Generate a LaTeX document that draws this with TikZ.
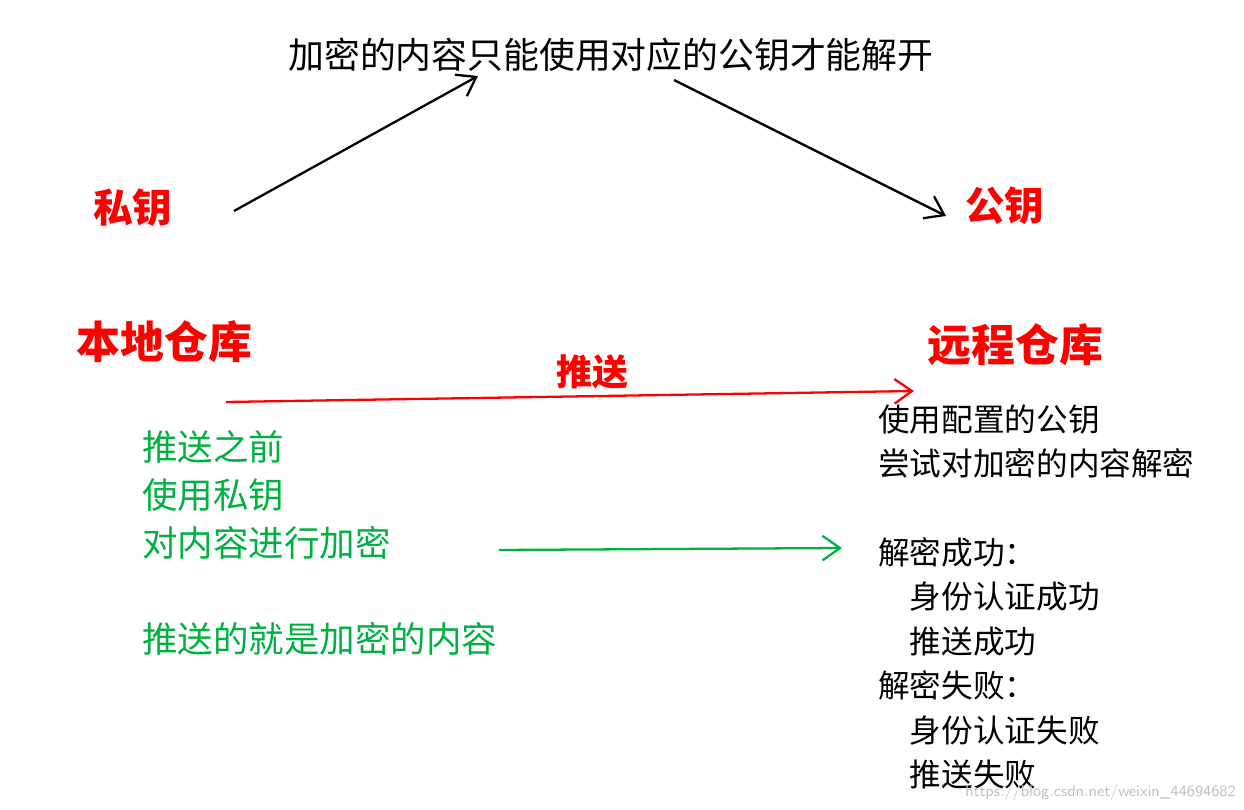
\documentclass[tikz,border=0pt]{standalone}
\usepackage{fontspec}
\newfontfamily\cjk{Noto Sans CJK SC}
\usetikzlibrary{arrows.meta}
\definecolor{gr}{HTML}{00B040}
\begin{document}
\begin{tikzpicture}[x=0.02cm,y=-0.02cm,
  lbl/.style={inner sep=0pt,anchor=west,font=\cjk},
  arr/.style={line width=1.3pt,-{Straight Barb[length=10pt,width=14pt,line width=1.3pt]}}]
\useasboundingbox (0,0) rectangle (1244,810);
\node[lbl,font=\cjk\fontsize{20.4}{24}\selectfont] (top) at (288,55) {加密的内容只能使用对应的公钥才能解开};
\node[lbl,text=red,font=\cjk\bfseries\fontsize{22.5}{26}\selectfont] (priv) at (93,208) {私钥};
\node[lbl,text=red,font=\cjk\bfseries\fontsize{22.5}{26}\selectfont] (pub) at (965,206) {公钥};
\node[lbl,text=red,font=\cjk\bfseries\fontsize{25}{30}\selectfont] (local) at (76,342) {本地仓库};
\node[lbl,text=red,font=\cjk\bfseries\fontsize{20.5}{24}\selectfont] (push) at (556,372) {推送};
\node[lbl,text=red,font=\cjk\bfseries\fontsize{25}{30}\selectfont] (remote) at (927,345) {远程仓库};
\node[lbl,text=gr,font=\cjk\fontsize{20.2}{27.3}\selectfont,align=left,anchor=north west] (green) at (142,430) {推送之前\\使用私钥\\对内容进行加密\\[27.3pt]推送的就是加密的内容};
\node[lbl,font=\cjk\fontsize{18}{25.3}\selectfont,align=left,anchor=north west] (right) at (878,404) {使用配置的公钥\\尝试对加密的内容解密\\[25.3pt]解密成功：\\\quad 身份认证成功\\\quad 推送成功\\解密失败：\\\quad 身份认证失败\\\quad 推送失败};
\coordinate (a1) at (234,211); \coordinate (a2) at (478,76);
\coordinate (b1) at (674,80); \coordinate (b2) at (946,216);
\coordinate (c1) at (226,402); \coordinate (c2) at (914,391);
\coordinate (d1) at (499,550); \coordinate (d2) at (842,548);
\draw[arr] (a1) -- (a2);
\draw[arr] (b1) -- (b2);
\draw[arr,red] (c1) -- (c2);
\draw[arr,gr] (d1) -- (d2);
\node[lbl,anchor=east,text=black!25,font=\fontsize{9}{10}\selectfont\sffamily] (wm) at (1236,793) {https://blog.csdn.net/weixin\_44694682};
\end{tikzpicture}
\end{document}
